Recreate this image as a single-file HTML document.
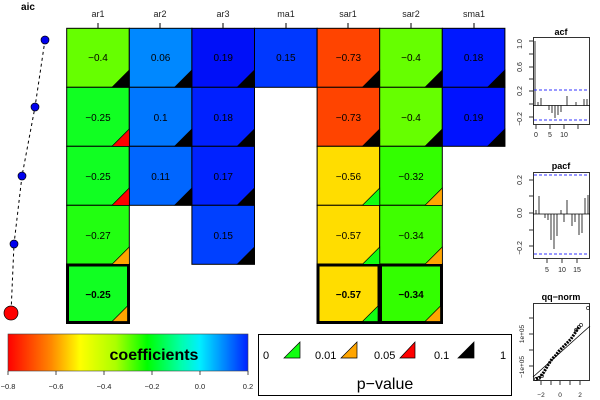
<!DOCTYPE html>
<html><head><meta charset="utf-8"><style>
html,body{margin:0;padding:0;background:#fff;width:600px;height:400px;overflow:hidden}
text{font-family:"Liberation Sans",sans-serif}
</style></head><body>
<svg width="600" height="400" viewBox="0 0 600 400" xmlns="http://www.w3.org/2000/svg">
<defs>
<linearGradient id="cb" x1="0" x2="1" y1="0" y2="0">
<stop offset="0" stop-color="#ff0000"/>
<stop offset="0.18" stop-color="#ff8800"/>
<stop offset="0.3" stop-color="#ffff00"/>
<stop offset="0.45" stop-color="#aaff00"/>
<stop offset="0.58" stop-color="#00ff00"/>
<stop offset="0.72" stop-color="#00ffaa"/>
<stop offset="0.8" stop-color="#00eeff"/>
<stop offset="0.9" stop-color="#0088ff"/>
<stop offset="1" stop-color="#0022ff"/>
</linearGradient>
</defs>
<text x="28" y="10" font-size="10" font-weight="bold" text-anchor="middle">aic</text>
<polyline points="45,40 35,107 22,176 14,244 11,313" fill="none" stroke="#000" stroke-dasharray="3,3" stroke-width="1"/>
<circle cx="45" cy="40" r="4" fill="#0000ee" stroke="#000" stroke-width="0.7"/>
<circle cx="35" cy="107" r="4" fill="#0000ee" stroke="#000" stroke-width="0.7"/>
<circle cx="22" cy="176" r="4" fill="#0000ee" stroke="#000" stroke-width="0.7"/>
<circle cx="14" cy="244" r="4" fill="#0000ee" stroke="#000" stroke-width="0.7"/>
<circle cx="11" cy="313" r="7" fill="#ff0000" stroke="#000" stroke-width="0.7"/>

<g font-size="9" fill="#222" text-anchor="middle">
<text x="98" y="17">ar1</text><text x="160" y="17">ar2</text><text x="223" y="17">ar3</text><text x="286" y="17">ma1</text><text x="348" y="17">sar1</text><text x="411" y="17">sar2</text><text x="474" y="17">sma1</text>
</g>
<g stroke="#000" stroke-width="1">
<line x1="98" y1="23" x2="98" y2="28"/><line x1="160" y1="23" x2="160" y2="28"/><line x1="223" y1="23" x2="223" y2="28"/><line x1="286" y1="23" x2="286" y2="28"/><line x1="348" y1="23" x2="348" y2="28"/><line x1="411" y1="23" x2="411" y2="28"/><line x1="474" y1="23" x2="474" y2="28"/>
</g>

<g stroke="#000" stroke-width="1" font-size="10">
<rect x="66.7" y="28.3" width="62.6" height="59" fill="#66ff00"/>
<rect x="129.3" y="28.3" width="62.6" height="59" fill="#0088ff"/>
<rect x="191.9" y="28.3" width="62.6" height="59" fill="#0010f8"/>
<rect x="254.5" y="28.3" width="62.6" height="59" fill="#0038ff"/>
<rect x="317.1" y="28.3" width="62.6" height="59" fill="#ff4400"/>
<rect x="379.7" y="28.3" width="62.6" height="59" fill="#66ff00"/>
<rect x="442.3" y="28.3" width="62.6" height="59" fill="#0018ff"/>
<rect x="66.7" y="87.3" width="62.6" height="59" fill="#11ff22"/>
<rect x="129.3" y="87.3" width="62.6" height="59" fill="#0077ff"/>
<rect x="191.9" y="87.3" width="62.6" height="59" fill="#0020ff"/>
<rect x="317.1" y="87.3" width="62.6" height="59" fill="#ff4400"/>
<rect x="379.7" y="87.3" width="62.6" height="59" fill="#66ff00"/>
<rect x="442.3" y="87.3" width="62.6" height="59" fill="#0012ff"/>
<rect x="66.7" y="146.3" width="62.6" height="59" fill="#11ff22"/>
<rect x="129.3" y="146.3" width="62.6" height="59" fill="#0066ff"/>
<rect x="191.9" y="146.3" width="62.6" height="59" fill="#0022ff"/>
<rect x="317.1" y="146.3" width="62.6" height="59" fill="#ffdd00"/>
<rect x="379.7" y="146.3" width="62.6" height="59" fill="#33ff00"/>
<rect x="66.7" y="205.3" width="62.6" height="59" fill="#22ff11"/>
<rect x="191.9" y="205.3" width="62.6" height="59" fill="#0040ff"/>
<rect x="317.1" y="205.3" width="62.6" height="59" fill="#ffdd00"/>
<rect x="379.7" y="205.3" width="62.6" height="59" fill="#3fff00"/>
<rect x="67.5" y="265" width="61" height="57.5" fill="#11ff22" stroke-width="3"/>
<rect x="318" y="265" width="61" height="57.5" fill="#ffdd00" stroke-width="3"/>
<rect x="380.5" y="265" width="61" height="57.5" fill="#33ff00" stroke-width="3"/>

<g stroke-width="0.7">
<polygon points="129.3,70 129.3,87.3 112,87.3" fill="#000"/>
<polygon points="191.9,70 191.9,87.3 174.6,87.3" fill="#000"/>
<polygon points="254.5,70 254.5,87.3 237.2,87.3" fill="#000"/>
<polygon points="379.7,70 379.7,87.3 362.4,87.3" fill="#000"/>
<polygon points="442.3,70 442.3,87.3 425,87.3" fill="#000"/>
<polygon points="504.9,70 504.9,87.3 487.6,87.3" fill="#000"/>
<polygon points="129.3,129 129.3,146.3 112,146.3" fill="#ff0000"/>
<polygon points="191.9,129 191.9,146.3 174.6,146.3" fill="#000"/>
<polygon points="254.5,129 254.5,146.3 237.2,146.3" fill="#000"/>
<polygon points="379.7,129 379.7,146.3 362.4,146.3" fill="#000"/>
<polygon points="442.3,129 442.3,146.3 425,146.3" fill="#000"/>
<polygon points="504.9,129 504.9,146.3 487.6,146.3" fill="#000"/>
<polygon points="129.3,188 129.3,205.3 112,205.3" fill="#ff0000"/>
<polygon points="191.9,188 191.9,205.3 174.6,205.3" fill="#000"/>
<polygon points="254.5,188 254.5,205.3 237.2,205.3" fill="#000"/>
<polygon points="379.7,188 379.7,205.3 362.4,205.3" fill="#11ff11"/>
<polygon points="442.3,188 442.3,205.3 425,205.3" fill="#ffa500"/>
<polygon points="129.3,247 129.3,264.3 112,264.3" fill="#ffa500"/>
<polygon points="254.5,247 254.5,264.3 237.2,264.3" fill="#000"/>
<polygon points="379.7,247 379.7,264.3 362.4,264.3" fill="#11ff11"/>
<polygon points="442.3,247 442.3,264.3 425,264.3" fill="#ffa500"/>
<polygon points="127.5,306 127.5,321.5 112,321.5" fill="#ffa500"/>
<polygon points="378,306 378,321.5 362.4,321.5" fill="#11ff11"/>
<polygon points="440.5,306 440.5,321.5 425,321.5" fill="#ffa500"/>
</g>
</g>

<g font-size="10" text-anchor="middle" fill="#000">
<text x="98" y="61">−0.4</text><text x="160.6" y="61">0.06</text><text x="223.2" y="61">0.19</text><text x="285.8" y="61">0.15</text><text x="348.4" y="61">−0.73</text><text x="411" y="61">−0.4</text><text x="473.6" y="61">0.18</text>
<text x="98" y="121">−0.25</text><text x="160.6" y="121">0.1</text><text x="223.2" y="121">0.18</text><text x="348.4" y="121">−0.73</text><text x="411" y="121">−0.4</text><text x="473.6" y="121">0.19</text>
<text x="98" y="180">−0.25</text><text x="160.6" y="180">0.11</text><text x="223.2" y="180">0.17</text><text x="348.4" y="180">−0.56</text><text x="411" y="180">−0.32</text>
<text x="98" y="239">−0.27</text><text x="223.2" y="239">0.15</text><text x="348.4" y="239">−0.57</text><text x="411" y="239">−0.34</text>
<g font-weight="bold"><text x="98" y="298">−0.25</text><text x="348.4" y="298">−0.57</text><text x="411" y="298">−0.34</text></g>
</g>

<rect x="8" y="334" width="240" height="37" fill="url(#cb)" stroke="#444" stroke-width="0.6"/>
<text x="154" y="360" font-size="16" font-weight="bold" text-anchor="middle">coefficients</text>
<g font-size="7.5" text-anchor="middle" fill="#222">
<text x="8" y="389">−0.8</text><text x="56" y="389">−0.6</text><text x="104" y="389">−0.4</text><text x="152" y="389">−0.2</text><text x="200" y="389">0.0</text><text x="248" y="389">0.2</text>
</g>
<g stroke="#000" stroke-width="0.7">
<line x1="8" y1="371" x2="8" y2="375"/><line x1="56" y1="371" x2="56" y2="375"/><line x1="104" y1="371" x2="104" y2="375"/><line x1="152" y1="371" x2="152" y2="375"/><line x1="200" y1="371" x2="200" y2="375"/><line x1="248" y1="371" x2="248" y2="375"/>
</g>

<rect x="258.5" y="334.5" width="253" height="61" fill="none" stroke="#000" stroke-width="1"/>
<g font-size="11">
<text x="263" y="359">0</text><text x="315" y="359">0.01</text><text x="374" y="359">0.05</text><text x="434" y="359">0.1</text><text x="500" y="359">1</text>
</g>
<g stroke="#000" stroke-width="0.7">
<polygon points="300,342 300,358 284,358" fill="#11ff11"/>
<polygon points="357,342 357,358 341,358" fill="#ffa500"/>
<polygon points="415,342 415,358 400,358" fill="#ff0000"/>
<polygon points="474,342 474,358 458,358" fill="#000"/>
</g>
<text x="385" y="389" font-size="16" text-anchor="middle">p−value</text>

<text x="561" y="35" font-size="9" font-weight="bold" text-anchor="middle">acf</text>
<rect x="533.5" y="37.5" width="56" height="87" fill="none" stroke="#000" stroke-width="0.8"/>
<g font-size="7" fill="#222">
<text transform="translate(522,44) rotate(-90)" text-anchor="middle">1.0</text>
<text transform="translate(522,67) rotate(-90)" text-anchor="middle">0.6</text>
<text transform="translate(522,91) rotate(-90)" text-anchor="middle">0.2</text>
<text transform="translate(522,119) rotate(-90)" text-anchor="middle">−0.2</text>
<text x="536" y="137" text-anchor="middle">0</text><text x="550" y="137" text-anchor="middle">5</text><text x="564" y="137" text-anchor="middle">10</text>
</g>
<g stroke="#000" stroke-width="0.8">
<line x1="533" y1="41" x2="529" y2="41"/><line x1="533" y1="54" x2="529" y2="54"/><line x1="533" y1="67" x2="529" y2="67"/><line x1="533" y1="79" x2="529" y2="79"/><line x1="533" y1="91" x2="529" y2="91"/><line x1="533" y1="104" x2="529" y2="104"/><line x1="533" y1="117" x2="529" y2="117"/>
<line x1="536" y1="125" x2="536" y2="129"/><line x1="550" y1="125" x2="550" y2="129"/><line x1="564" y1="125" x2="564" y2="129"/><line x1="578" y1="125" x2="578" y2="129"/>
<line x1="533" y1="105.5" x2="590" y2="105.5"/>
<line x1="535" y1="105.5" x2="535" y2="41"/>
<line x1="538" y1="105.5" x2="538" y2="102"/><line x1="541" y1="105.5" x2="541" y2="98"/>
<line x1="549" y1="105.5" x2="549" y2="110"/><line x1="552" y1="105.5" x2="552" y2="113"/><line x1="555" y1="105.5" x2="555" y2="118"/><line x1="558" y1="105.5" x2="558" y2="115"/><line x1="561" y1="105.5" x2="561" y2="112"/>
<line x1="567" y1="105.5" x2="567" y2="96"/><line x1="576" y1="105.5" x2="576" y2="102"/><line x1="584" y1="105.5" x2="584" y2="99"/><line x1="587" y1="105.5" x2="587" y2="99"/>
</g>
<g stroke="#33f" stroke-dasharray="3,2" stroke-width="0.9">
<line x1="534" y1="90" x2="589" y2="90"/><line x1="534" y1="120" x2="589" y2="120"/>
</g>

<text x="561" y="169" font-size="9" font-weight="bold" text-anchor="middle">pacf</text>
<rect x="533.5" y="172.5" width="56" height="86" fill="none" stroke="#000" stroke-width="0.8"/>
<g font-size="7" fill="#222">
<text transform="translate(522,180) rotate(-90)" text-anchor="middle">0.2</text>
<text transform="translate(522,213) rotate(-90)" text-anchor="middle">0.0</text>
<text transform="translate(522,248) rotate(-90)" text-anchor="middle">−0.2</text>
<text x="547" y="272" text-anchor="middle">5</text><text x="562" y="272" text-anchor="middle">10</text><text x="577" y="272" text-anchor="middle">15</text>
</g>
<g stroke="#000" stroke-width="0.8">
<line x1="533" y1="180" x2="529" y2="180"/><line x1="533" y1="196" x2="529" y2="196"/><line x1="533" y1="213" x2="529" y2="213"/><line x1="533" y1="230" x2="529" y2="230"/><line x1="533" y1="246" x2="529" y2="246"/>
<line x1="547" y1="259" x2="547" y2="263"/><line x1="562" y1="259" x2="562" y2="263"/><line x1="577" y1="259" x2="577" y2="263"/>
<line x1="533" y1="214" x2="590" y2="214"/>
<line x1="536" y1="214" x2="536" y2="210"/><line x1="539" y1="214" x2="539" y2="196"/>
<line x1="545" y1="214" x2="545" y2="218"/><line x1="548" y1="214" x2="548" y2="220"/><line x1="551" y1="214" x2="551" y2="240"/><line x1="554" y1="214" x2="554" y2="249"/><line x1="557" y1="214" x2="557" y2="236"/><line x1="561" y1="214" x2="561" y2="210"/>
<line x1="564" y1="214" x2="564" y2="222"/><line x1="567" y1="214" x2="567" y2="200"/><line x1="572" y1="214" x2="572" y2="226"/><line x1="575" y1="214" x2="575" y2="222"/><line x1="579" y1="214" x2="579" y2="235"/><line x1="582" y1="214" x2="582" y2="233"/><line x1="585" y1="214" x2="585" y2="198"/><line x1="588" y1="214" x2="588" y2="195"/>
</g>
<g stroke="#33f" stroke-dasharray="3,2" stroke-width="0.9">
<line x1="534" y1="175" x2="589" y2="175"/><line x1="534" y1="254" x2="589" y2="254"/>
</g>

<text x="561" y="300" font-size="9" font-weight="bold" text-anchor="middle">qq−norm</text>
<rect x="533.5" y="303.5" width="56" height="77" fill="none" stroke="#000" stroke-width="0.8"/>
<g font-size="6.5" fill="#222">
<text transform="translate(524,334) rotate(-90)" text-anchor="middle">1e+05</text>
<text transform="translate(524,367) rotate(-90)" text-anchor="middle">−1e+05</text>
<text x="541" y="397" text-anchor="middle">−2</text><text x="560" y="397" text-anchor="middle">0</text><text x="580" y="397" text-anchor="middle">2</text>
</g>
<g stroke="#000" stroke-width="0.8">
<line x1="533" y1="318" x2="529" y2="318"/><line x1="533" y1="334" x2="529" y2="334"/><line x1="533" y1="350" x2="529" y2="350"/><line x1="533" y1="366" x2="529" y2="366"/>
<line x1="541" y1="381" x2="541" y2="385"/><line x1="551" y1="381" x2="551" y2="385"/><line x1="560" y1="381" x2="560" y2="385"/><line x1="570" y1="381" x2="570" y2="385"/><line x1="580" y1="381" x2="580" y2="385"/>
<line x1="533" y1="377" x2="590" y2="326"/>
</g>
<polyline points="536,379 540,377 544,372 548,365 552,359 556,355 559,351 563,347 567,343 571,339 575,333 579,327" fill="none" stroke="#000" stroke-width="3" stroke-dasharray="2,1"/>
<g fill="none" stroke="#000" stroke-width="0.6">
<circle cx="536" cy="379" r="1.6"/><circle cx="539" cy="378" r="1.6"/><circle cx="542" cy="376" r="1.6"/><circle cx="576" cy="330" r="1.6"/><circle cx="579" cy="327" r="1.6"/><circle cx="581" cy="325" r="1.6"/><circle cx="588" cy="308" r="1.6"/>
</g>
</svg>
</body></html>
